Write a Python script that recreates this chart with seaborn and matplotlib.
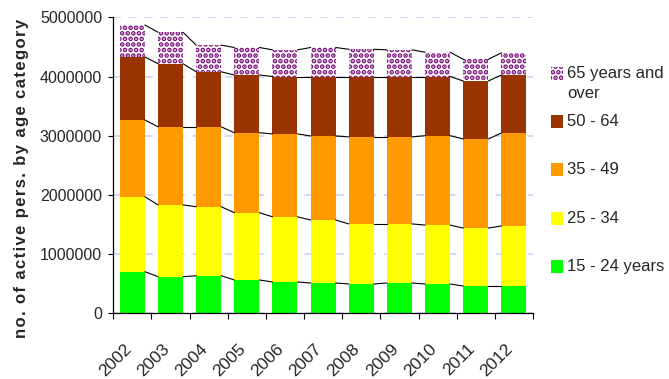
import numpy as np
import matplotlib
matplotlib.use("Agg")
import matplotlib.pyplot as plt
import matplotlib.transforms as mtransforms
import seaborn as sns
from matplotlib.patches import Rectangle
from matplotlib.ticker import FuncFormatter

# Active persons by age category, 2002-2012
years = [str(y) for y in range(2002, 2013)]
age_15_24 = [703000, 618000, 635000, 563000, 529000, 512000, 495000, 512000, 495000, 461000, 461000]
age_25_34 = [1267000, 1212000, 1165000, 1137000, 1101000, 1064000, 1015000, 998000, 995000, 979000, 1014000]
age_35_49 = [1295000, 1320000, 1350000, 1350000, 1400000, 1419000, 1470000, 1470000, 1510000, 1505000, 1570000]
age_50_64 = [1065000, 1066000, 930000, 975000, 970000, 1005000, 1020000, 1020000, 1000000, 979000, 980000]
age_65_plus = [540000, 531000, 450000, 465000, 450000, 490000, 460000, 450000, 410000, 366000, 375000]

series_labels = ["15 - 24 years", "25 - 34", "35 - 49", "50 - 64", "65 years and\nover"]
series_colors = ["#00ff00", "#ffff00", "#ff9900", "#993300", "#ffffff"]
pattern_color = "#7a0a7a"
y_ticks = [0, 1000000, 2000000, 3000000, 4000000, 5000000]
y_label = "no. of active pers. by age category"

sns.set_style("white")
plt.rcParams["font.family"] = ["Liberation Sans", "DejaVu Sans"]
plt.rcParams["hatch.linewidth"] = 2.4

W, H = 669, 379
fig = plt.figure(figsize=(W / 100, H / 100), dpi=100)
ax = fig.add_axes([113.3 / W, 1 - 313.3 / H, (533 - 113.3) / W, (313.3 - 17.3) / H])

layers = [age_15_24, age_25_34, age_35_49, age_50_64, age_65_plus]
cum = np.cumsum(np.array(layers, dtype=float), axis=0)
bar_w = 0.655

# stacked bars: draw cumulative totals from the top layer downwards
for k in range(len(layers) - 1, -1, -1):
    if k == len(layers) - 1:
        sns.barplot(x=years, y=cum[k], color="white", saturation=1, width=bar_w,
                    hatch="...", edgecolor=pattern_color, linewidth=0, ax=ax, zorder=2)
    else:
        sns.barplot(x=years, y=cum[k], color=series_colors[k], saturation=1, width=bar_w,
                    linewidth=0, ax=ax, zorder=2)

# series lines joining segment boundaries between neighbouring bars
for k in range(len(layers)):
    for i in range(len(years) - 1):
        ax.plot([i + bar_w / 2, i + 1 - bar_w / 2], [cum[k][i], cum[k][i + 1]],
                color="black", lw=0.8, zorder=3)

ax.set_xlim(-0.5, len(years) - 0.5)
ax.set_ylim(0, 5000000)
ax.set_yticks(y_ticks)
ax.yaxis.set_major_formatter(FuncFormatter(lambda v, _: f"{int(v)}"))
ax.yaxis.grid(True, linestyle=(0, (4.1, 4.1)), color="#d6d6fa", lw=1.4)
ax.xaxis.grid(False)
ax.set_axisbelow(True)

ax.set_xticks(range(len(years)))
ax.set_xticklabels(years, rotation=45, ha="right", va="top", rotation_mode="anchor")
ax.set_xticks(np.arange(-0.5, len(years), 1), minor=True)
ax.tick_params(axis="x", which="major", length=0, pad=20, labelsize=12.5)
ax.tick_params(axis="x", which="minor", length=4, width=0.8, color="black", direction="out", bottom=True)
ax.tick_params(axis="y", length=3.6, width=0.8, color="black", direction="out", left=True,
               labelsize=11.5, pad=4.5)
ax.set_xlabel("")
ax.set_ylabel("")

# nudge the slanted year labels so their upper ends sit just left of the bar centres
shift = mtransforms.ScaledTranslation(-9 / 100, 0, fig.dpi_scale_trans)
for lbl in ax.get_xticklabels():
    lbl.set_transform(lbl.get_transform() + shift)

for side in ["top", "right"]:
    ax.spines[side].set_visible(False)
for side in ["left", "bottom"]:
    ax.spines[side].set_color("black")
    ax.spines[side].set_linewidth(0.9)

# bold axis title with widened letter spacing
spaced_label = "\u200a".join(y_label)
fig.text(22 / W, 1 - 178 / H, spaced_label, rotation=90, ha="center", va="center",
         fontsize=12, fontweight="bold")

# legend entries, top to bottom
legend_rows = [74, 121.7, 169.3, 218.3, 266.7]
legend_items = list(zip(series_labels, series_colors))[::-1]
for (label, colr), yc in zip(legend_items, legend_rows):
    is_pattern = label.startswith("65")
    rect = Rectangle((551 / W, 1 - (yc + 6.5) / H), 12 / W, 13 / H, transform=fig.transFigure,
                     facecolor=colr, edgecolor=pattern_color if is_pattern else "none",
                     linewidth=0, hatch="..." if is_pattern else None)
    fig.patches.append(rect)
    if is_pattern:
        fig.text(567 / W, 1 - (yc - 8) / H, label, ha="left", va="top",
                 fontsize=12, linespacing=1.45)
    else:
        fig.text(567 / W, 1 - yc / H, label, ha="left", va="center", fontsize=12)

fig.savefig("out.png", dpi=100)
